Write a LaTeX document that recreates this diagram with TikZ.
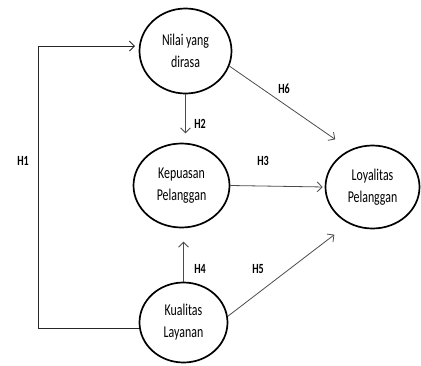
\documentclass[tikz,border=0pt]{standalone}
\usepackage{fontspec}
\setmainfont{Carlito}[FakeStretch = 0.72]
\usetikzlibrary{shapes.geometric, arrows.meta}

\begin{document}
\begin{tikzpicture}[
	x = 1pt, y = -1pt,
	var/.style = {draw, ellipse, line width = 1.7pt, align = center, inner sep = 0pt,
		font = \fontsize{16.5}{22}\selectfont},
	hyp/.style = {font = \bfseries\fontsize{14}{16}\selectfont},
	link/.style = {-{Straight Barb[length=5pt, width=10pt]}, draw = black!70, line width = 0.8pt},
	]
	\useasboundingbox (0,0) rectangle (421,365);

	% variables
	\node[var, minimum width = 92pt, minimum height = 85pt] (nilai) at (185.5,51) {Nilai yang\\dirasa};
	\node[var, minimum width = 96pt, minimum height = 84pt] (kepuasan) at (181.5,185.5) {Kepuasan\\Pelanggan};
	\node[var, minimum width = 94pt, minimum height = 83pt] (loyalitas) at (372.5,187) {Loyalitas\\Pelanggan};
	\node[var, minimum width = 88pt, minimum height = 80pt] (kualitas) at (183.5,322.5) {Kualitas\\Layanan};

	% hypotheses
	\draw[link, draw = black!85] (kualitas.188) -- ++(-101,0) |- ([xshift=-4pt]nilai.174);
	\draw[link] (nilai.south) -- ++(0,39);
	\draw[link, shorten >= 2pt] (kepuasan.east) -- (loyalitas.west);
	\draw[link] (kualitas.north) -- ++(0,-40);
	\draw[link, shorten >= 18pt] (nilai.-19) -- (loyalitas.121);
	\draw[link, shorten >= 18pt] (kualitas.8) -- (loyalitas.237);

	% labels
	\node[hyp] (h1) at (23,161) {H1};
	\node[hyp] (h2) at (200,124) {H2};
	\node[hyp] (h3) at (263,161) {H3};
	\node[hyp] (h4) at (200,269) {H4};
	\node[hyp] (h5) at (258,269) {H5};
	\node[hyp] (h6) at (284,89) {H6};
\end{tikzpicture}
\end{document}
